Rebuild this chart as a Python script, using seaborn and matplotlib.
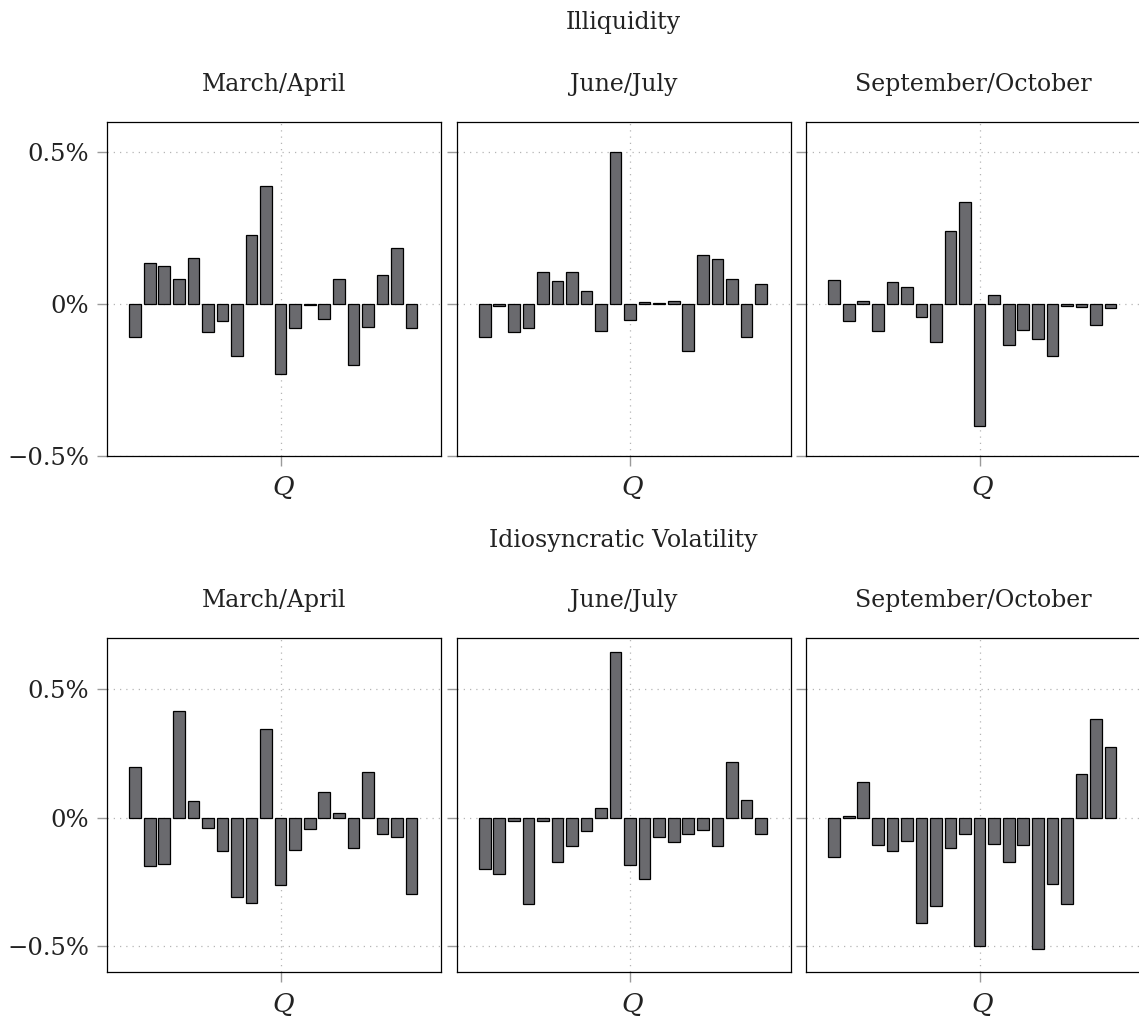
import numpy as np
import pandas as pd
import matplotlib
matplotlib.use("Agg")
import matplotlib.pyplot as plt
import seaborn as sns

# ---------------- data ----------------
quantiles = list(range(-10, 10))  # Q positions, 0 marked on axis

illiq_mar_apr = [-0.107, 0.134, 0.125, 0.083, 0.152, -0.090, -0.057, -0.172, 0.229, 0.388,
                 -0.230, -0.080, -0.004, -0.049, 0.083, -0.201, -0.076, 0.096, 0.186, -0.080]
illiq_jun_jul = [-0.107, -0.007, -0.090, -0.077, 0.106, 0.076, 0.106, 0.044, -0.088, 0.500,
                 -0.051, 0.006, 0.003, 0.010, -0.153, 0.161, 0.150, 0.083, -0.107, 0.068]
illiq_sep_oct = [0.079, -0.057, 0.010, -0.087, 0.073, 0.057, -0.041, -0.126, 0.242, 0.336,
                 -0.401, 0.029, -0.135, -0.085, -0.115, -0.172, -0.007, -0.010, -0.067, -0.012]

ivol_mar_apr = [0.197, -0.188, -0.181, 0.416, 0.064, -0.039, -0.129, -0.309, -0.332, 0.345,
                -0.260, -0.126, -0.045, 0.099, 0.017, -0.117, 0.179, -0.061, -0.073, -0.295]
ivol_jun_jul = [-0.201, -0.219, -0.013, -0.335, -0.014, -0.170, -0.108, -0.052, 0.040, 0.647,
                -0.182, -0.239, -0.075, -0.094, -0.062, -0.049, -0.108, 0.216, 0.070, -0.062]
ivol_sep_oct = [-0.151, 0.006, 0.139, -0.104, -0.129, -0.090, -0.408, -0.342, -0.117, -0.062,
                -0.497, -0.100, -0.170, -0.105, -0.509, -0.258, -0.335, 0.170, 0.383, 0.274]

row_titles = ["Illiquidity", "Idiosyncratic Volatility"]
col_titles = ["March/April", "June/July", "September/October"]
y_ticks = [-0.5, 0.0, 0.5]
y_ticklabels = ["\u22120.5%", "0%", "0.5%"]
x_label = "Q"

rows = [[illiq_mar_apr, illiq_jun_jul, illiq_sep_oct],
        [ivol_mar_apr, ivol_jun_jul, ivol_sep_oct]]
row_ylims = [(-0.5, 0.6), (-0.6, 0.7)]

# ---------------- style ----------------
sns.set_theme(style="white")
plt.rcParams["font.family"] = ["DejaVu Serif"]
text_color = "#222222"
bar_color = "#6a6a6e"
grid_color = "#b5b5b5"
tick_color = "#9a9a9a"
fs = 17

W, H = 1139, 1019
fig = plt.figure(figsize=(W / 100, H / 100), dpi=100)

panel_left = [107, 456.5, 806]
panel_w = 334
panel_h = 334
row_top = [122, 638]

for r in range(2):
    for c in range(3):
        x0 = panel_left[c]
        y0 = row_top[r]
        ax = fig.add_axes([x0 / W, 1 - (y0 + panel_h) / H, panel_w / W, panel_h / H])
        df = pd.DataFrame({"Q": quantiles, "v": rows[r][c]})
        sns.barplot(data=df, x="Q", y="v", native_scale=True, width=0.8,
                    color=bar_color, saturation=1, edgecolor="black",
                    linewidth=0.9, ax=ax, zorder=3)
        ax.set_xlim(-11.94, 11.03)
        ax.set_ylim(*row_ylims[r])
        # grid
        for yt in y_ticks:
            ax.axhline(yt, color=grid_color, lw=0.9, ls=(0, (1, 4)), zorder=1)
        ax.axvline(0, color=grid_color, lw=0.9, ls=(0, (1, 4)), zorder=1)
        ax.set_yticks(y_ticks)
        ax.set_xticks([0])
        ax.set_xticklabels([""])
        if c == 0:
            ax.set_yticklabels(y_ticklabels, fontsize=fs + 0.5, color=text_color)
        else:
            ax.set_yticklabels([])
        ax.tick_params(axis="both", direction="out", length=7, width=1.0,
                       color=tick_color, pad=6, left=True, bottom=True)
        ax.set_xlabel("")
        ax.set_ylabel("")
        for sp in ax.spines.values():
            sp.set_visible(True)
            sp.set_color("black")
            sp.set_linewidth(0.9)
        # column title
        fig.text((x0 + panel_w / 2) / W, 1 - (y0 - 37) / H, col_titles[c],
                 ha="center", va="center", fontsize=fs, color=text_color)
        # Q label
        fig.text((x0 + 176) / W, 1 - (y0 + panel_h + 32) / H, x_label,
                 ha="center", va="center", fontsize=fs + 2, style="italic",
                 color=text_color)

# row titles
fig.text(623.5 / W, 1 - 23 / H, row_titles[0], ha="center", va="center",
         fontsize=fs, color=text_color)
fig.text(623.5 / W, 1 - 540 / H, row_titles[1], ha="center", va="center",
         fontsize=fs, color=text_color)

fig.savefig("out.png", dpi=100)
